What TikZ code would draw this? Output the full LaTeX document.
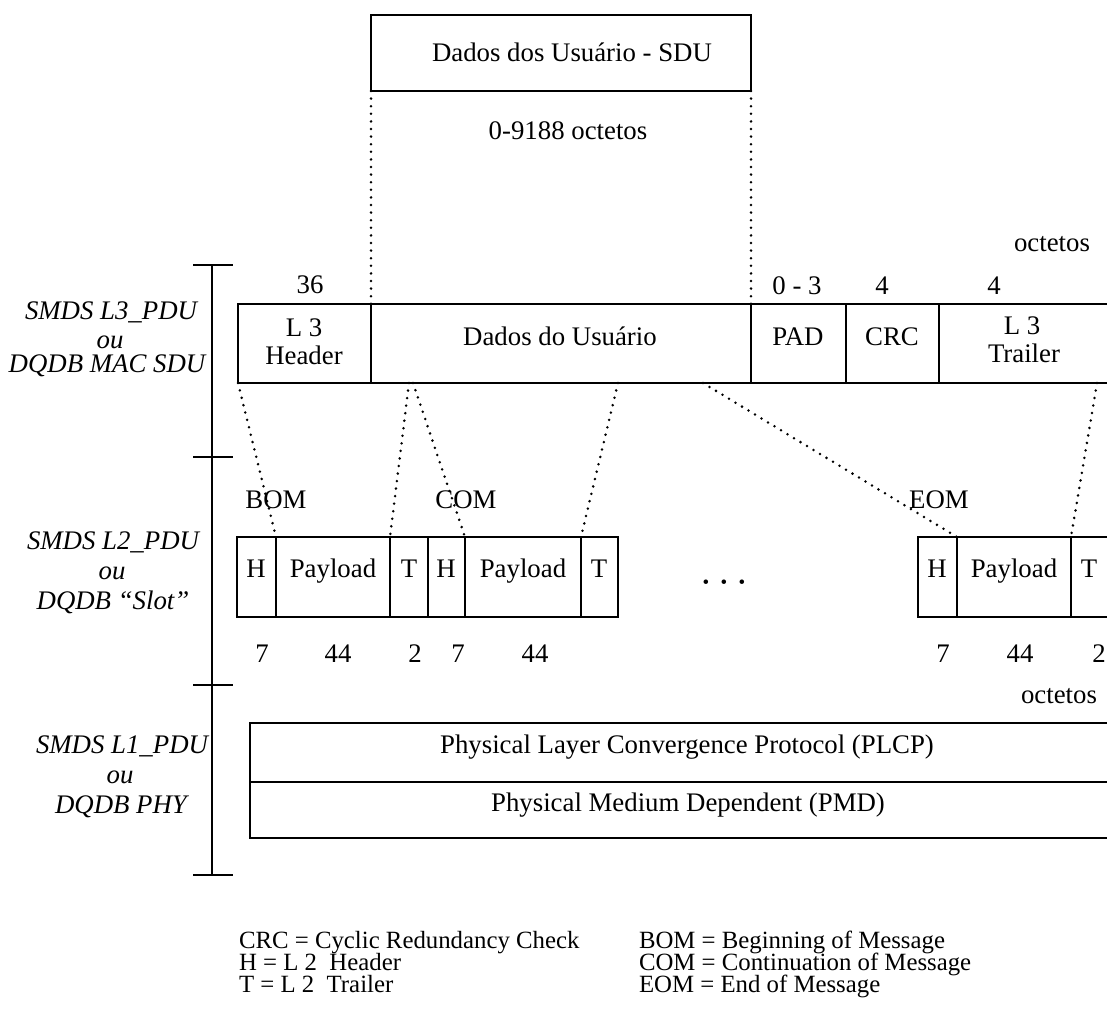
\documentclass[tikz,border=0pt]{standalone}
\usepackage{fontspec}
\setmainfont{Liberation Serif}
\usetikzlibrary{fit}
\begin{document}
\begin{tikzpicture}[x=0.5pt,y=-0.5pt,
  txt/.style={font=\fontsize{13.4}{16}\selectfont, inner sep=0pt, outer sep=0pt, anchor=base},
  side/.style={txt, font=\fontsize{13.4}{16}\selectfont\itshape},
  legend/.style={txt, anchor=base west, font=\fontsize{12.4}{14}\selectfont},
  cell/.style={draw, line width=1.4pt, rectangle, inner sep=0pt, outer sep=0pt},
  dots/.style={line width=1.4pt, dash pattern=on 0pt off 3.8pt, line cap=round},
  ruler/.style={line width=1.1pt}]
\clip (0,0) rectangle (1107,1016);
\fill[white] (0,0) rectangle (1107,1016);

% ---- user data unit ----
\node[cell, fit={(371,15) (751,91)}] (sdu) {};
\node[txt] (sdutxt) at (572,62) {Dados dos Usuário - SDU};
\node[txt] (sdulen) at (568,140) {0-9188 octetos};

% ---- layer 3 PDU ----
\node[cell, fit={(238,304) (371,383)}] (hdr) {};
\node[cell, fit={(371,304) (751,383)}] (data) {};
\node[cell, fit={(751,304) (846,383)}] (pad) {};
\node[cell, fit={(846,304) (939,383)}] (crc) {};
\node[cell, fit={(939,304) (1118,383)}] (trl) {};

\node[txt] (hdrA) at (304,336) {L 3};
\node[txt] (hdrB) at (304,364) {Header};
\node[txt] (datatxt) at (560,345) {Dados do Usuário};
\node[txt] (padtxt) at (798,345) {PAD};
\node[txt] (crctxt) at (892,345) {CRC};
\node[txt] (trlA) at (1022,334) {L 3};
\node[txt] (trlB) at (1024,362) {Trailer};

\node[txt] (n36) at (310,293) {36};
\node[txt] (n03) at (797,294) {0 - 3};
\node[txt] (n4a) at (882,294) {4};
\node[txt] (n4b) at (994,294) {4};
\node[txt] (oct1) at (1052,251) {octetos};

% ---- layer 2 PDUs (slots) ----
\node[cell, fit={(237,537) (276,617)}] (bomH) {};
\node[cell, fit={(276,537) (390,617)}] (bomP) {};
\node[cell, fit={(390,537) (428,617)}] (bomT) {};
\node[cell, fit={(428,537) (465,617)}] (comH) {};
\node[cell, fit={(465,537) (581,617)}] (comP) {};
\node[cell, fit={(581,537) (618,617)}] (comT) {};
\node[cell, fit={(918,537) (957,617)}] (eomH) {};
\node[cell, fit={(957,537) (1071,617)}] (eomP) {};
\node[cell, fit={(1071,537) (1118,617)}] (eomT) {};

\node[txt] (bomHt) at (256,577) {H};
\node[txt] (bomPt) at (333,577) {Payload};
\node[txt] (bomTt) at (409,577) {T};
\node[txt] (comHt) at (446,577) {H};
\node[txt] (comPt) at (523,577) {Payload};
\node[txt] (comTt) at (599,577) {T};
\node[txt] (eomHt) at (937,577) {H};
\node[txt] (eomPt) at (1014,577) {Payload};
\node[txt] (eomTt) at (1089,577) {T};

\node[txt, font=\fontsize{9.5}{10}\selectfont] (more) at (724,588) {•\hspace{5.7pt}•\hspace{5.7pt}•};

\node[txt] (s1) at (262,662) {7};
\node[txt] (s2) at (338,662) {44};
\node[txt] (s3) at (415,662) {2};
\node[txt] (s4) at (458,662) {7};
\node[txt] (s5) at (535,662) {44};
\node[txt] (s6) at (943,662) {7};
\node[txt] (s7) at (1020,662) {44};
\node[txt] (s8) at (1099,662) {2};
\node[txt] (oct2) at (1059,703) {octetos};

% ---- segmentation of the L3 PDU into slots ----
\coordinate (c1) at (409,383);
\coordinate (c2) at (413,383);
\coordinate (c3) at (618,383);
\coordinate (c4) at (703,383);
\coordinate (c5) at (1097,383);
\draw[dots] (sdu.south west) -- (data.north west);
\draw[dots] (sdu.south east) -- (pad.north west);
\draw[dots] (hdr.south west) -- (bomH.north east);
\draw[dots] (c1) -- (bomP.north east);
\draw[dots] (c2) -- (comH.north east);
\draw[dots] (c3) -- (comP.north east);
\draw[dots] (c4) -- (eomH.north east);
\draw[dots] (c5) -- (eomP.north east);

\node[txt] (bom) at (276,508) {BOM};
\node[txt] (com) at (466,508) {COM};
\node[txt] (eom) at (939,508) {EOM};

% ---- physical layer ----
\node[cell, fit={(250,723) (1125,782)}] (plcp) {};
\node[cell, fit={(250,782) (1125,838)}] (pmd) {};
\node[txt] (plcptxt) at (687,753) {Physical Layer Convergence Protocol (PLCP)};
\node[txt] (pmdtxt) at (688,811) {Physical Medium Dependent (PMD)};

% ---- layer ruler ----
\draw[ruler] (212,265) -- (212,875);
\foreach \y in {265,457,685,875} \draw[ruler] (193,\y) -- (233,\y);

\node[side] (l3a) at (111,319) {SMDS L3\_PDU};
\node[side] (l3b) at (110,348) {ou};
\node[side] (l3c) at (107,372) {DQDB MAC SDU};
\node[side] (l2a) at (113,549) {SMDS L2\_PDU};
\node[side] (l2b) at (112,579) {ou};
\node[side] (l2c) at (113,609) {DQDB “Slot”};
\node[side] (l1a) at (122,753) {SMDS L1\_PDU};
\node[side] (l1b) at (120,783) {ou};
\node[side] (l1c) at (121,813) {DQDB PHY};

% ---- legend ----
\node[legend] (k1) at (239,948) {CRC = Cyclic Redundancy Check};
\node[legend] (k2) at (239,970) {H = L 2\ \ Header};
\node[legend] (k3) at (239,992) {T = L 2\ \ Trailer};
\node[legend] (k4) at (639,948) {BOM = Beginning of Message};
\node[legend] (k5) at (639,970) {COM = Continuation of Message};
\node[legend] (k6) at (639,992) {EOM = End of Message};
\end{tikzpicture}
\end{document}
